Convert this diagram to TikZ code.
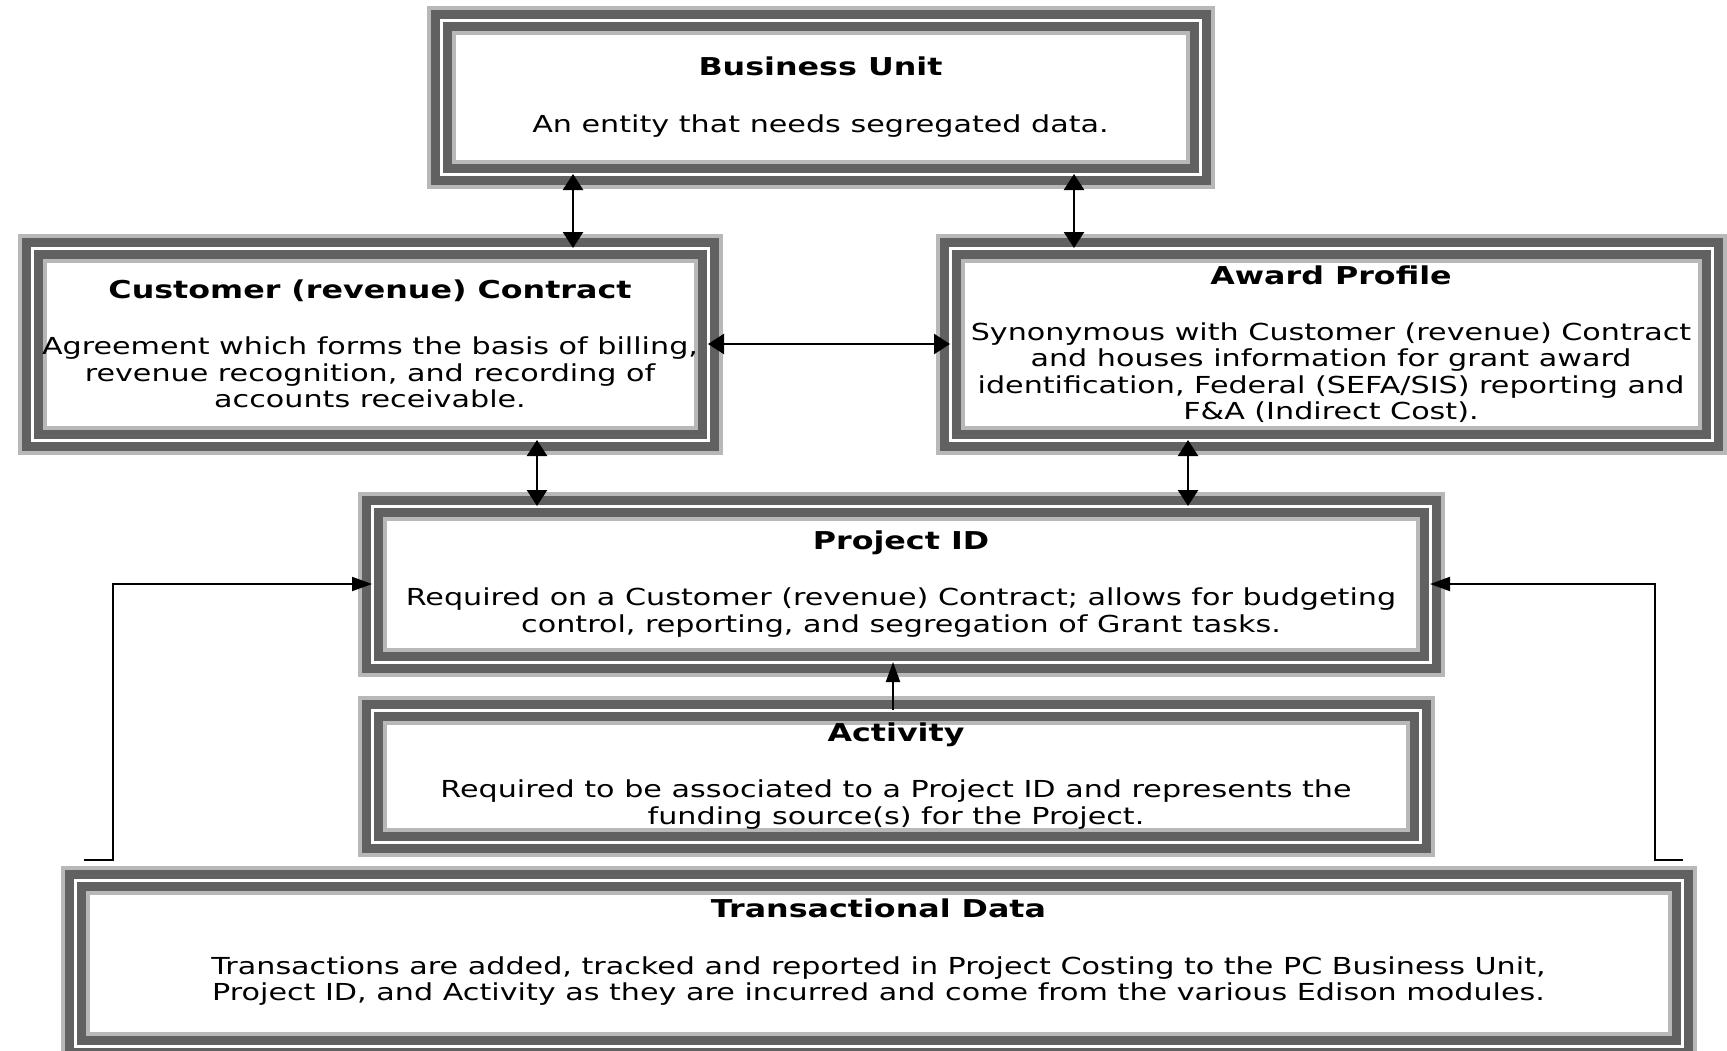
\documentclass[tikz,border=0pt]{standalone}
\usepackage{fontspec}
\setmainfont{DejaVu Sans}[FakeStretch=1.29]
\usetikzlibrary{arrows.meta,positioning,calc}

\newcommand{\panelhead}[1]{{\fontsize{12.3}{13.2}\selectfont\bfseries #1}}

\begin{document}
\begin{tikzpicture}[x=0.5pt,y=-0.5pt,
    every node/.style={font=\fontsize{11.7}{13.2}\selectfont},
    panel/.style={rectangle, outer sep=0pt, inner sep=0pt, align=center,
      draw=black!62, line width=4.5pt, double=white, double distance=1.5pt,
      preaction={draw=black!28, line width=6.5pt, double=white, double distance=1.5pt}},
    twoway/.style={{Triangle[length=8pt,width=10pt]}-{Triangle[length=8pt,width=10pt]}, line width=1.25pt},
    oneway/.style={-{Triangle[length=10pt,width=7pt]}, line width=1pt}]
                                \fill[white] (0,0) rectangle (1727,1050);
                                \useasboundingbox (0,0) rectangle (1727,1050);

                                \node[panel, minimum width=379.5pt, minimum height=77pt] (bu) at (820.5,97)
                                  {\panelhead{Business Unit}\\[15pt]An entity that needs segregated data.};
                                \node[panel, minimum width=338pt, minimum height=96pt] (cc) at (370,344)
                                  {\panelhead{Customer (revenue) Contract}\\[15pt]Agreement which forms the basis of billing,\\
                                   revenue recognition, and recording of\\accounts receivable.};
                                \node[panel, minimum width=381pt, minimum height=96pt] (ap) at (1331,344)
                                  {\panelhead{Award Profile}\\[15pt]Synonymous with Customer (revenue) Contract\\
                                   and houses information for grant award\\identification, Federal (SEFA/SIS) reporting and\\
                                   F\&A (Indirect Cost).};
                                \node[panel, minimum width=529pt, minimum height=78pt] (pid) at (901,584)
                                  {\panelhead{Project ID}\\[15pt]Required on a Customer (revenue) Contract; allows for budgeting\\
                                   control, reporting, and segregation of Grant tasks.};
                                \node[panel, minimum width=524pt, minimum height=66pt] (act) at (896,776)
                                  {\panelhead{Activity}\\[15pt]Required to be associated to a Project ID and represents the\\
                                   funding source(s) for the Project.};
                                \node[panel, minimum width=803.5pt, minimum height=83pt] (td) at (878.5,963)
                                  {\panelhead{Transactional Data}\\[15pt]Transactions are added, tracked and reported in Project Costing to the PC Business Unit,\\
                                   Project ID, and Activity as they are incurred and come from the various Edison modules.\\ \mbox{}};

                                \draw[twoway] (573,0 |- bu.south) -- (573,0 |- cc.north);
                                \draw[twoway] (1074,0 |- bu.south) -- (1074,0 |- ap.north);
                                \draw[twoway] (cc.east) -- (ap.west);
                                \draw[twoway] (537,0 |- cc.south) -- (537,0 |- pid.north);
                                \draw[twoway] (1188,0 |- ap.south) -- (1188,0 |- pid.north);
                                \draw[oneway] (893,0 |- act.north) -- (893,0 |- pid.south);

                                \coordinate (tdl) at (84,860);
                                \coordinate (tdr) at (1683,860);
                                \draw[oneway] (tdl) -- ++(29,0) |- (pid.west);
                                \draw[oneway] (tdr) -- ++(-28,0) |- (pid.east);
                            \end{tikzpicture}
\end{document}
